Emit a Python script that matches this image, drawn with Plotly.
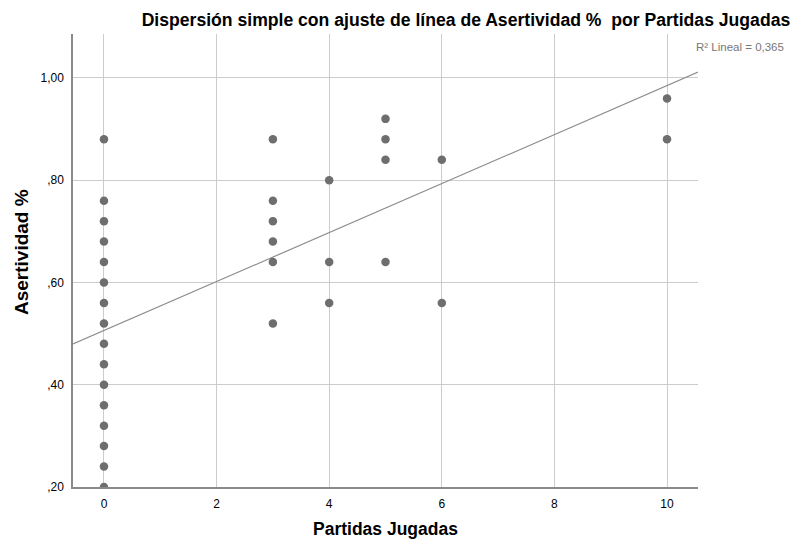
import plotly.graph_objects as go

# Partidas jugadas (x) and asertividad (y) for each participant
partidas = [0] * 16 + [3] * 6 + [4] * 3 + [5] * 4 + [6] * 2 + [10] * 2
asertividad = [
    0.88, 0.76, 0.72, 0.68, 0.64, 0.60, 0.56, 0.52,
    0.48, 0.44, 0.40, 0.36, 0.32, 0.28, 0.24, 0.20,
    0.88, 0.76, 0.72, 0.68, 0.64, 0.52,
    0.80, 0.64, 0.56,
    0.92, 0.88, 0.84, 0.64,
    0.84, 0.56,
    0.96, 0.88,
]

# Linear fit (R² = 0,365)
fit_intercept = 0.506
fit_slope = 0.0479
r2_label = "R² Lineal = 0,365"

x_range = [-0.55, 10.55]
y_range = [0.20, 1.086]
x_ticks = [0, 2, 4, 6, 8, 10]
y_ticks = [0.20, 0.40, 0.60, 0.80, 1.00]
y_tick_text = [",20", ",40", ",60", ",80", "1,00"]

FONT = "Liberation Sans, Arial, sans-serif"

fig = go.Figure()

fig.add_trace(go.Scatter(
    x=x_range,
    y=[fit_intercept + fit_slope * v for v in x_range],
    mode="lines",
    line=dict(color="#8f8f8f", width=1.2),
    hoverinfo="skip",
    showlegend=False,
))

fig.add_trace(go.Scatter(
    x=partidas,
    y=asertividad,
    mode="markers",
    marker=dict(color="#6e6e6e", size=8.5, line=dict(width=0)),
    cliponaxis=True,
    showlegend=False,
))

fig.update_layout(
    width=795,
    height=540,
    margin=dict(l=73, r=97, t=34, b=53),
    paper_bgcolor="white",
    plot_bgcolor="white",
    font=dict(family=FONT, color="#000000", size=12),
    title=dict(
        text="<b>Dispersión simple con ajuste de línea de Asertividad %  por Partidas Jugadas</b>",
        xref="container", x=0.994, xanchor="right",
        yref="container", y=1 - 20 / 540, yanchor="middle",
        font=dict(family=FONT, size=17.6, color="#000000"),
    ),
    xaxis=dict(
        range=x_range,
        tickvals=x_ticks,
        showgrid=True, gridcolor="#cccccc", gridwidth=1,
        zeroline=False,
        showline=True, linecolor="#8a8a8a", linewidth=1.5,
        ticks="", ticklabelstandoff=5,
        tickfont=dict(family=FONT, size=12, color="#000000"),
    ),
    yaxis=dict(
        range=y_range,
        tickvals=y_ticks, ticktext=y_tick_text,
        showgrid=True, gridcolor="#cccccc", gridwidth=1,
        zeroline=False,
        showline=True, linecolor="#8a8a8a", linewidth=1.5,
        ticks="", ticklabelstandoff=5,
        tickfont=dict(family=FONT, size=12, color="#000000"),
    ),
    annotations=[
        dict(
            text=r2_label, xref="paper", yref="paper",
            x=(786 - 73) / 625, xanchor="right",
            y=1 + (34 - 47) / 453, yanchor="middle",
            showarrow=False,
            font=dict(family=FONT, size=11.5, color="#777777"),
        ),
        dict(
            text="<b>Asertividad %</b>", xref="paper", yref="paper",
            x=(21 - 73) / 625, xanchor="center",
            y=1 - (252 - 34) / 453, yanchor="middle", textangle=-90,
            showarrow=False,
            font=dict(family=FONT, size=19, color="#000000"),
        ),
        dict(
            text="<b>Partidas Jugadas</b>", xref="paper", yref="paper",
            x=0.5, xanchor="center",
            y=-(529 - 487) / 453, yanchor="middle",
            showarrow=False,
            font=dict(family=FONT, size=17.5, color="#000000"),
        ),
    ],
)

fig.write_html("out.html")
